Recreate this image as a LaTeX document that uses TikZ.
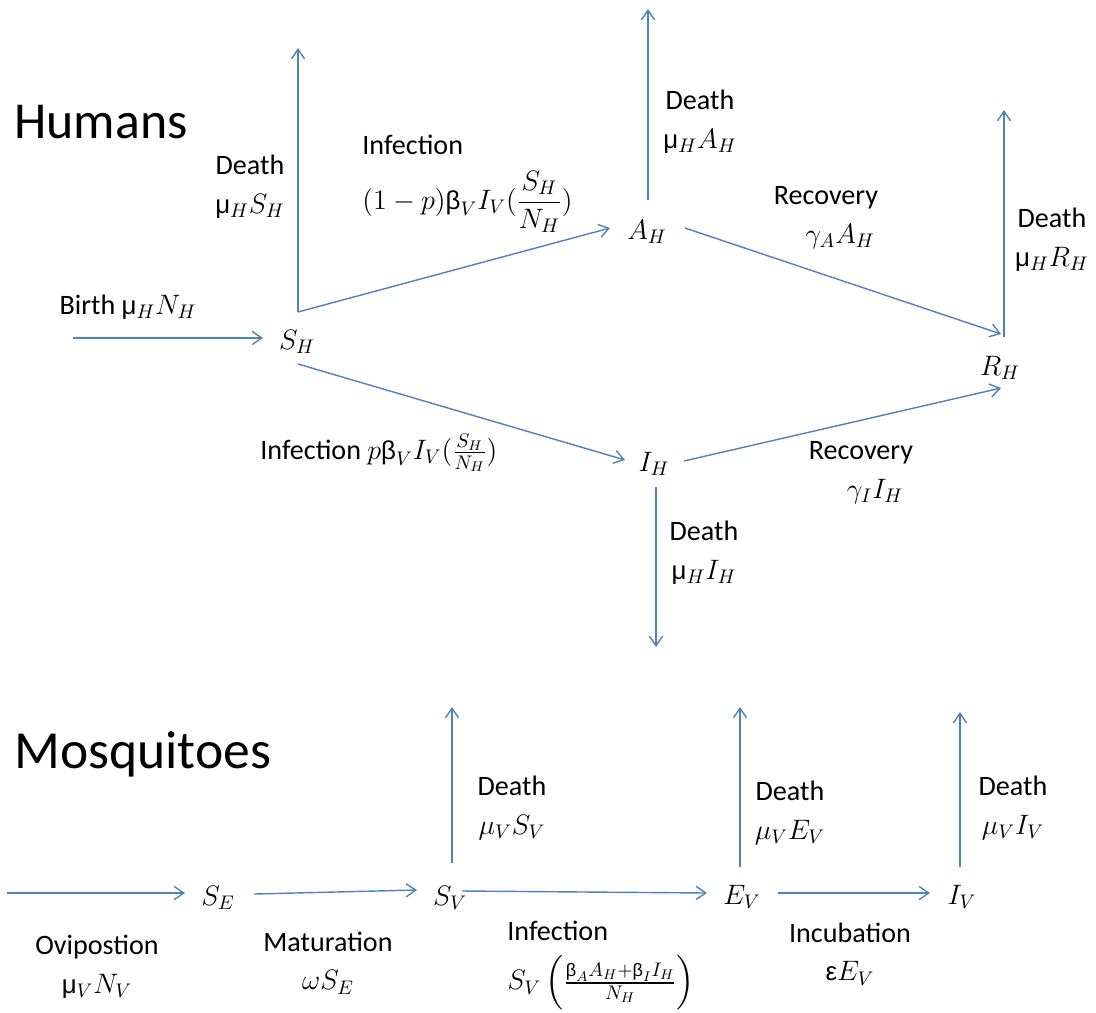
\RequirePackage{fix-cm}
\documentclass[tikz,border=0pt]{standalone}
\usepackage{amsmath}
\usepackage{fontspec}
\setmainfont{Carlito}
\newfontfamily\grk[Scale=0.92]{Liberation Sans}
\newcommand{\gmu}{{\grk μ}}
\newcommand{\gbeta}{\text{\grk β}}
\newcommand{\geps}{{\grk ε}}
\usetikzlibrary{arrows.meta,calc,positioning}
\definecolor{flowblue}{RGB}{79,129,189}

\begin{document}
\begin{tikzpicture}[x=0.02cm, y=-0.02cm,
    font=\fontsize{16}{22}\selectfont,
    flow/.style={draw=flowblue, line width=0.8pt, -{Straight Barb[length=5.5pt,width=7.5pt]}},
    comp/.style={inner sep=0pt},
    lbl/.style={inner sep=0pt, align=center},
    heading/.style={inner sep=0pt, anchor=base west, font=\fontsize{29.5}{34}\selectfont}]
    \useasboundingbox (0,0) rectangle (1096,1012);

    % humans
    \node[heading] (hum) at (14,138) {Humans};
    \node[comp] (SH) at (297,342) {$S_H$};
    \node[comp] (AH) at (647,232) {$A_H$};
    \node[comp] (IH) at (654,464) {$I_H$};
    \node[comp] (RH) at (1000,368) {$R_H$};

    \coordinate (birth) at (73,338);
    \coordinate (SHc) at ($(SH)+(1,-30)$);
    \coordinate (SHd) at (298,48);
    \coordinate (AHd) at (648,9);
    \coordinate (RHc) at ($(RH)+(1,-34)$);
    \coordinate (RHd) at (1004,110);
    \coordinate (IHd) at (656,647);

    \draw[flow] (birth) -- ($(SH)+(-34,-4)$);
    \draw[flow] (SHc) -- (SHd);
    \draw[flow] (SHc) -- ($(AH)+(-37,-4)$);
    \draw[flow] ($(SH)+(1,22)$) -- ($(IH)+(-29,-4)$);
    \draw[flow] ($(AH)+(1,-32)$) -- (AHd);
    \draw[flow] ($(AH)+(38,-4)$) -- (RHc);
    \draw[flow] ($(RH)+(4,-31)$) -- (RHd);
    \draw[flow] ($(IH)+(30,-3)$) -- ($(RH)+(1,20)$);
    \draw[flow] ($(IH)+(2,23)$) -- (IHd);

    \node[lbl] (lbBirth) at (128,307) {Birth \gmu$_H N_H$};
    \node[lbl] (lbSHd) at (250,187) {Death\\ \gmu$_H S_H$};
    \node[lbl, align=left, anchor=north west] (lbSHA) at (362,135)
        {Infection\\[9pt] $(1-p)\gbeta_V I_V(\dfrac{S_H}{N_H})$};
    \node[lbl] (lbAHd) at (700,122) {Death\\ \gmu$_H A_H$};
    \node[lbl] (lbAHR) at (826,218) {Recovery\\ \hspace*{1em}$\gamma_A A_H$};
    \node[lbl] (lbRHd) at (1052,240) {Death\\ \gmu$_H R_H$};
    \node[lbl, anchor=west] (lbSHI) at (260,453) {Infection $p\gbeta_V I_V(\frac{S_H}{N_H})$};
    \node[lbl] (lbIHR) at (861,473) {Recovery\\ \hspace*{1em}$\gamma_I I_H$};
    \node[lbl] (lbIHd) at (704,553) {Death\\ \gmu$_H I_H$};

    % mosquitoes
    \node[heading, font=\fontsize{30.5}{36}\selectfont] (mos) at (14,768) {Mosquitoes};
    \node[comp] (SE) at (218,898) {$S_E$};
    \node[comp] (SV) at (450,898) {$S_V$};
    \node[comp] (EV) at (742,897) {$E_V$};
    \node[comp] (IV) at (962,897) {$I_V$};

    \coordinate (ovi) at (7,893);
    \coordinate (SVd) at (452,707);
    \coordinate (EVd) at (740,707);
    \coordinate (IVd) at (960,712);

    \draw[flow] (ovi) -- ($(SE)+(-33,-5)$);
    \draw[flow] ($(SE)+(36,-4)$) -- ($(SV)+(-33,-8)$);
    \draw[flow] ($(SV)+(12,-7)$) -- ($(EV)+(-35,-4)$);
    \draw[flow] ($(EV)+(36,-4)$) -- ($(IV)+(-32,-4)$);
    \draw[flow] ($(SV)+(2,-35)$) -- (SVd);
    \draw[flow] ($(EV)+(-2,-30)$) -- (EVd);
    \draw[flow] ($(IV)+(-2,-30)$) -- (IVd);

    \node[lbl] (lbSVd) at (512,808) {Death\\ $\mu_V S_V$};
    \node[lbl] (lbEVd) at (790,813) {Death\\ $\mu_V E_V$};
    \node[lbl] (lbIVd) at (1013,808) {Death\\ $\mu_V I_V$};
    \node[lbl] (lbOvi) at (97,967) {Ovipostion\\ \gmu$_V N_V$};
    \node[lbl] (lbMat) at (328,963) {Maturation\\ $\omega S_E$};
    \node[lbl, align=left, anchor=north west] (lbInfV) at (507,921)
        {Infection\\[6pt] $S_V\,\Bigl(\frac{\gbeta_A A_H+\gbeta_I I_H}{N_H}\Bigr)$};
    \node[lbl] (lbInc) at (850,954) {Incubation\\ \geps$E_V$};
\end{tikzpicture}
\end{document}
